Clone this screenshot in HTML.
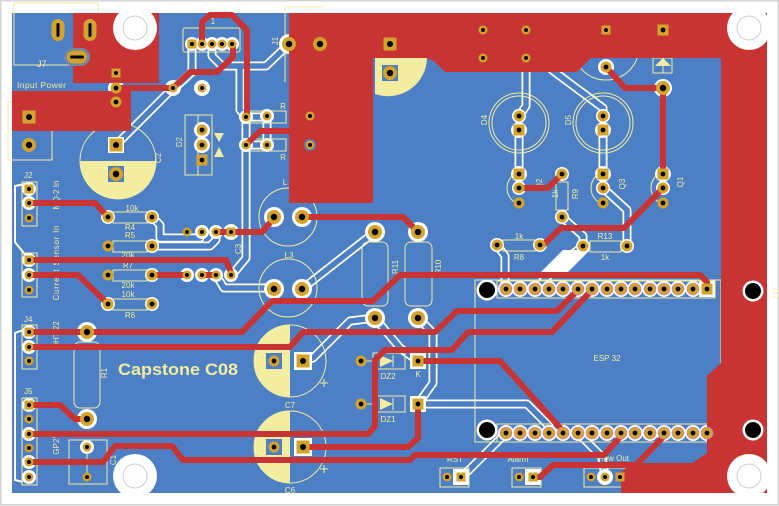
<!DOCTYPE html>
<html><head><meta charset="utf-8"><style>
html,body{margin:0;padding:0;background:#fff;width:779px;height:506px;overflow:hidden}
svg{display:block}
.sk{fill:none;stroke:#f2eda1;stroke-width:1}
.t{fill:#f2eda1;font-family:"Liberation Sans",sans-serif;font-size:8px}
.m{text-anchor:middle}
</style></head><body>
<svg width="779" height="506" viewBox="0 0 779 506" xmlns="http://www.w3.org/2000/svg">
<defs>
<g id="p"><circle r="5.5" fill="#d4a32c"/><circle r="2.4"/></g>
<g id="ps"><circle r="4.5" fill="#d4a32c"/><circle r="2"/></g>
<g id="pb"><circle r="7" fill="#d4a32c"/><circle r="3.2"/></g>
<g id="s"><rect x="-5.5" y="-5.5" width="11" height="11" fill="#d4a32c"/><circle r="2.4"/></g>
<g id="ss"><rect x="-4.5" y="-4.5" width="9" height="9" fill="#d4a32c"/><circle r="2"/></g>
<g id="sb"><rect x="-6.5" y="-6.5" width="13" height="13" fill="#d4a32c"/><circle r="3"/></g>
<g id="e"><circle r="5.8" fill="#d4a32c" stroke="#c58ba6" stroke-width="1"/><circle r="2.4"/></g>
<g id="wt" fill="none" stroke-linejoin="round" stroke-linecap="round">
 <path d="M116,145 L173,88"/>
 <path d="M192,44 V72 L177,86"/>
 <path d="M212,44 V56 L222,66 H266 L289,44"/>
 <path d="M240,66 V110 L246,117 V258 L232,275"/>
 <path d="M246,117 H267 V145 H246"/>
 <path d="M152,217 L160,225 V238 H200 L202,232"/>
 <path d="M152,246 H210 L216,240 V232"/>
 <path d="M216,275 L224,288 H274"/>
 <path d="M302,289 L375,232"/>
 <path d="M375,318 L350,321 L313,358 L303,361"/>
 <path d="M375,318 L400,348 L418,361"/>
 <path d="M418,318 L433,333 V383 L418,404"/>
 <path d="M418,404 H527 L549,426 V433"/>
 <path d="M506,433 L463,476"/>
 <path d="M578,433 L602,457 L605,477"/>
 <path d="M497,245 L505,256 V289"/>
 <path d="M535,289 L560,264 L583,246"/>
 <path d="M562,217 L583,236 V246"/>
 <path d="M603,188 L627,210 V246"/>
 <path d="M526,58 V106 L519,116"/>
 <path d="M519,130 V174"/>
 <path d="M552,70 L603,108 V116"/>
 <path d="M603,130 V174"/>
</g>
</defs>

<rect width="779" height="506" fill="#fff"/>
<rect x="0.75" y="0.75" width="777.5" height="504" fill="none" stroke="#d4d4d4" stroke-width="1.5"/>
<rect x="12" y="13" width="755" height="480" fill="#4d7fc4"/>

<use href="#wt" stroke="#fff" stroke-width="9"/>
<use href="#wt" stroke="#4d7fc4" stroke-width="5.5"/>
<polygon points="540,273 563,250 590,250 567,273" fill="#fff"/>
<path d="M25,184 L15,186 V242 L27,257 M23,330 L15,333 V480 L23,482" fill="none" stroke="#fff" stroke-width="2"/>

<g fill="#fff">
<circle cx="116" cy="88" r="8"/><circle cx="173" cy="88" r="8"/><circle cx="202" cy="88" r="8"/>
<rect x="108" y="137" width="16" height="16"/>
<circle cx="202" cy="130" r="8"/><circle cx="202" cy="145" r="8"/>
<circle cx="192" cy="44" r="7"/><circle cx="202" cy="44" r="7"/><circle cx="212" cy="44" r="7"/><circle cx="222" cy="44" r="7"/><circle cx="232" cy="44" r="7"/>
<circle cx="246" cy="117" r="7"/><circle cx="246" cy="145" r="7"/><circle cx="267" cy="116" r="7"/><circle cx="267" cy="145" r="7"/>
<circle cx="289" cy="44" r="10"/>
<circle cx="526" cy="30" r="7"/><circle cx="526" cy="58" r="7"/><circle cx="606" cy="67" r="8"/><circle cx="663" cy="88" r="9"/>
<circle cx="519" cy="116" r="7"/><circle cx="519" cy="130" r="8"/><circle cx="603" cy="116" r="7"/><circle cx="603" cy="130" r="8"/>
<circle cx="519" cy="174" r="8"/><circle cx="519" cy="188" r="7"/><circle cx="603" cy="174" r="8"/><circle cx="603" cy="188" r="7"/>
<circle cx="663" cy="174" r="8"/><circle cx="663" cy="188" r="7"/>
<circle cx="562" cy="174" r="7"/><circle cx="562" cy="217" r="7"/><circle cx="497" cy="245" r="7"/><circle cx="540" cy="245" r="7"/>
<circle cx="583" cy="246" r="7"/><circle cx="627" cy="246" r="7"/>
<circle cx="108" cy="217" r="7"/><circle cx="152" cy="217" r="7"/><circle cx="152" cy="246" r="7"/><circle cx="152" cy="275" r="7"/>
<circle cx="108" cy="304" r="7"/><circle cx="152" cy="304" r="7"/>
<circle cx="202" cy="232" r="7"/><circle cx="216" cy="232" r="7"/><circle cx="231" cy="232" r="8"/>
<circle cx="187" cy="275" r="7"/><circle cx="202" cy="275" r="7"/><circle cx="216" cy="275" r="7"/><circle cx="231" cy="275" r="7"/>
<circle cx="29" cy="189" r="7"/><circle cx="29" cy="203" r="7"/><circle cx="29" cy="260" r="7"/><circle cx="29" cy="275" r="7"/>
<circle cx="29" cy="332" r="7"/><circle cx="29" cy="347" r="7"/><circle cx="29" cy="405" r="7"/><circle cx="29" cy="434" r="7"/>
<circle cx="29" cy="462" r="7"/><circle cx="29" cy="477" r="7"/>
<circle cx="87" cy="332" r="10"/><circle cx="87" cy="419" r="10"/><circle cx="87" cy="447" r="7"/>
<circle cx="274" cy="217" r="10"/><circle cx="302" cy="217" r="10"/><circle cx="274" cy="289" r="10"/><circle cx="302" cy="289" r="10"/>
<circle cx="375" cy="232" r="10"/><circle cx="375" cy="318" r="10"/><circle cx="418" cy="232" r="10"/><circle cx="418" cy="318" r="10"/>
<rect x="294" y="352" width="18" height="18"/><rect x="294" y="438" width="18" height="18"/>
<rect x="410" y="353" width="16" height="16"/><rect x="410" y="396" width="16" height="16"/>
<rect x="453" y="469" width="16" height="16"/><rect x="525" y="469" width="16" height="16"/><circle cx="605" cy="477" r="8"/>
<circle cx="506" cy="289" r="8"/><circle cx="520" cy="289" r="8"/><circle cx="535" cy="289" r="8"/><circle cx="549" cy="289" r="8"/><circle cx="563" cy="289" r="8"/><circle cx="578" cy="289" r="8"/><circle cx="592" cy="289" r="8"/><circle cx="607" cy="289" r="8"/><circle cx="621" cy="289" r="8"/><circle cx="635" cy="289" r="8"/><circle cx="650" cy="289" r="8"/><circle cx="664" cy="289" r="8"/><circle cx="678" cy="289" r="8"/><circle cx="693" cy="289" r="8"/><rect x="699" y="281" width="16" height="16"/>
<circle cx="506" cy="433" r="8"/><circle cx="520" cy="433" r="8"/><circle cx="535" cy="433" r="8"/><circle cx="549" cy="433" r="8"/><circle cx="563" cy="433" r="8"/><circle cx="578" cy="433" r="8"/><circle cx="592" cy="433" r="8"/><circle cx="607" cy="433" r="8"/><circle cx="621" cy="433" r="8"/><circle cx="635" cy="433" r="8"/><circle cx="650" cy="433" r="8"/><circle cx="664" cy="433" r="8"/><circle cx="678" cy="433" r="8"/><circle cx="693" cy="433" r="8"/><circle cx="707" cy="433" r="8"/>
</g>

<g fill="#f2eda1">
<path d="M80,161 H156 A38,38 0 0 1 80,161 Z"/>
<path d="M375,58 H427 A39,39 0 0 1 375,94 Z"/>
<path d="M290,325 V397 A36,36 0 0 1 290,325 Z"/>
<path d="M290,411 V483 A36,36 0 0 1 290,411 Z"/>
<path d="M214,133 H224 L219,142 Z M214,157 H224 L219,147 Z"/>
<path d="M380,355 V367 L393,361 Z M380,398 V410 L393,404 Z"/>
<path d="M655,66 H671 L663,58 Z"/>
</g>
<g class="sk">
<path d="M98,13 V3 H14 V65 H73"/>
<rect x="8" y="102" width="44" height="58"/>
<circle cx="118" cy="161" r="38"/>
<rect x="185" y="115" width="27" height="60"/><path d="M198,115 V175"/>
<rect x="183" y="28" width="57" height="24" rx="2"/>
<path d="M285,82 V7 H323"/>
<rect x="250" y="111" width="36" height="12"/><rect x="250" y="139" width="36" height="12"/>
<circle cx="288" cy="217" r="29"/><circle cx="288" cy="288" r="29"/>
<circle cx="519" cy="123" r="30"/><circle cx="519" cy="123" r="27"/>
<circle cx="603" cy="123" r="30"/><circle cx="603" cy="123" r="27"/>
<circle cx="606" cy="47" r="33"/>
<circle cx="290" cy="361" r="36"/><circle cx="290" cy="447" r="36"/>
<path d="M320,383 h8 M324,379 v8 M320,469 h8 M324,465 v8"/>
<rect x="113" y="212" width="34" height="11"/><rect x="113" y="241" width="34" height="11"/>
<rect x="113" y="270" width="34" height="11"/><rect x="113" y="299" width="34" height="11"/>
<rect x="74" y="342" width="26" height="66" rx="6"/>
<rect x="69" y="440" width="38" height="44"/><path d="M87,447 V477"/>
<rect x="362" y="242" width="26" height="64" rx="6"/><rect x="405" y="242" width="27" height="64" rx="6"/>
<rect x="373" y="353" width="32" height="16"/><rect x="373" y="396" width="32" height="16"/>
<path d="M366,361 H373 M393,355 V367 M366,404 H373 M393,398 V410"/>
<rect x="475" y="280" width="246" height="162"/>
<rect x="497" y="281" width="218" height="17"/><rect x="497" y="424" width="218" height="18"/>
<rect x="440" y="468" width="29" height="19"/><rect x="512" y="468" width="29" height="19"/><rect x="584" y="468" width="44" height="19"/>
<path d="M524,171 A17,17 0 1 0 524,205 M608,171 A17,17 0 1 0 608,205 M668,171 A17,17 0 1 0 668,205"/>
<rect x="556" y="182" width="12" height="28"/><rect x="503" y="240" width="32" height="11"/><rect x="590" y="241" width="31" height="11"/>
<rect x="653" y="58" width="19" height="15"/><path d="M663,66 V73"/>
<rect x="22" y="182" width="15" height="44"/><rect x="22" y="253" width="15" height="44"/>
<rect x="22" y="325" width="15" height="44"/><rect x="22" y="398" width="15" height="87"/>
</g>
<g class="t">
<text x="37" y="67" font-size="9">J7</text>
<text x="17" y="88" font-size="8.5" textLength="49">Input Power</text>
<text x="24" y="178">J2</text>
<text x="24" y="322">J4</text>
<text x="24" y="394">J5</text>
<text x="132" y="211" class="m">10k</text>
<text x="130" y="230" class="m">R4</text>
<text x="130" y="238" class="m">R5</text>
<text x="128" y="258" class="m">20k</text>
<text x="128" y="268" class="m">R7</text>
<text x="128" y="288" class="m">20k</text>
<text x="128" y="297" class="m">10k</text>
<text x="130" y="318" class="m">R6</text>
<text x="118" y="375" font-size="17" font-weight="bold" textLength="120" lengthAdjust="spacingAndGlyphs">Capstone C08</text>
<text x="110" y="376" class="m" transform="rotate(-90 107 376)">R1</text>
<text x="59" y="201" class="m" transform="rotate(-90 56 198)">MQ-2 In</text>
<text x="59" y="269" class="m" textLength="75" transform="rotate(-90 56 266)">Current Sensor In</text>
<text x="59" y="341" class="m" transform="rotate(-90 56 338)">DHT-22</text>
<text x="59" y="450" class="m" transform="rotate(-90 56 447)">GP2Y</text>
<text x="116" y="466" class="m" transform="rotate(-90 113 463)">C1</text>
<text x="161" y="164" class="m" transform="rotate(-90 158 161)">C2</text>
<text x="182" y="148" class="m" transform="rotate(-90 179 145)">D2</text>
<text x="278" y="47" class="m" transform="rotate(-90 275 44)">J1</text>
<text x="213" y="24" class="m">1</text>
<text x="241" y="255" class="m" transform="rotate(-90 238 252)">C3</text>
<text x="285" y="185" class="m">L</text>
<text x="289" y="258" class="m">L3</text>
<text x="283" y="109" class="m">R</text>
<text x="283" y="160" class="m">R</text>
<text x="398" y="273" class="m" transform="rotate(-90 395 270)">R11</text>
<text x="441" y="273" class="m" transform="rotate(-90 438 270)">R10</text>
<text x="388" y="379" class="m">DZ2</text>
<text x="418" y="377" class="m">K</text>
<text x="388" y="422" class="m">DZ1</text>
<text x="290" y="408" class="m">C7</text>
<text x="290" y="493" class="m">C6</text>
<text x="487" y="126" class="m" transform="rotate(-90 484 123)">D4</text>
<text x="571" y="126" class="m" transform="rotate(-90 568 123)">D5</text>
<text x="542" y="190" class="m" transform="rotate(-90 539 187)">Q2</text>
<text x="625" y="190" class="m" transform="rotate(-90 622 187)">Q3</text>
<text x="683" y="188" class="m" transform="rotate(-90 680 185)">Q1</text>
<text x="558" y="200" class="m" transform="rotate(-90 555 197)">1k</text>
<text x="578" y="200" class="m" transform="rotate(-90 575 197)">R9</text>
<text x="519" y="239" class="m">1k</text>
<text x="519" y="260" class="m">R8</text>
<text x="605" y="239" class="m">R13</text>
<text x="605" y="260" class="m">1k</text>
<text x="607" y="361" class="m">ESP 32</text>
<text x="779" y="299" class="m" transform="rotate(-90 776 296)">U2</text>
<text x="455" y="462" class="m">RST</text>
<text x="518" y="462" class="m">Alarm</text>
<text x="613" y="461" class="m">Flow Out</text>
</g>

<g fill="#4d7fc4">
<rect x="108" y="166" width="16" height="16"/>
<rect x="266" y="353" width="16" height="16"/>
<rect x="266" y="439" width="16" height="16"/>
<rect x="382" y="65" width="16" height="16"/>
</g>

<g fill="#c83434">
<path d="M73,13 H159 V83 H73 Z"/>
<path d="M12,91 H131 V131 H12 Z"/>
<path d="M289,13 H767 V493 H621 V472 L633,463 H692 L707,453 V376 L721,363 V58 H591 L577,72 H445 L435,62 L427,58 H373 V203 H289 Z"/>
</g>
<g fill="none" stroke="#c83434" stroke-width="6" stroke-linejoin="round" stroke-linecap="round">
<path d="M116,88 H173 L190,72 H217 L233,57 V44"/>
<path d="M202,44 V22 L210,15 H232 L247,30 V117"/>
<path d="M246,145 L260,131 H292"/>
<path d="M29,203 H95 L108,217"/>
<path d="M216,232 H262 L274,218"/>
<path d="M302,217 H403 L418,232"/>
<path d="M29,260 H226 L232,275"/>
<path d="M29,275 H78 L108,304"/>
<path d="M152,275 H187 M202,275 H216"/>
<path d="M29,332 H242 L272,301 H373 L400,275 H700 L707,282 V289"/>
<path d="M29,347 H290 L303,332 H435 L457,311 H557 L578,290"/>
<path d="M29,434 H368 L375,426 V360 L385,350 H452 L468,332 H552 L592,290"/>
<path d="M418,361 H500 L564,432"/>
<path d="M303,447 H408 L418,438 V404"/>
<path d="M29,462 H103 L115,446 H172 L183,460 H410 L415,455 H604 L621,436"/>
<path d="M533,477 H540 L553,465 H636 L664,436"/>
<path d="M29,405 H60 L75,419 H87"/>
<path d="M606,67 L625,88 H663 V174"/>
<path d="M519,188 H548 L562,174"/>
<path d="M663,188 L624,228 H561 L541,247"/>
</g>

<g fill="#fff">
<circle cx="135" cy="28" r="22"/><circle cx="749" cy="28" r="22"/>
<circle cx="135" cy="476" r="22"/><circle cx="749" cy="476" r="22"/>
</g>
<g fill="none" stroke="#cfcfcf" stroke-width="1">
<circle cx="135" cy="28" r="12"/><circle cx="749" cy="28" r="12"/>
<circle cx="135" cy="476" r="12"/><circle cx="749" cy="476" r="12"/>
</g>

<rect x="51.5" y="19" width="13" height="22" rx="6.5" fill="#d4a32c"/><rect x="56.5" y="23" width="3" height="14" rx="1.5"/>
<rect x="83.5" y="19" width="13" height="22" rx="6.5" fill="#d4a32c"/><rect x="88.5" y="23" width="3" height="14" rx="1.5"/>
<rect x="64" y="48" width="26" height="18" rx="9" fill="#6f86a8"/>
<rect x="67" y="50.5" width="20" height="13" rx="6.5" fill="#d4a32c"/><rect x="70" y="55.5" width="14" height="3" rx="1.5"/>

<use href="#ss" x="116" y="73"/><use href="#p" x="116" y="88"/><use href="#p" x="116" y="102"/>
<use href="#ps" x="173" y="88"/><use href="#ps" x="202" y="88"/>
<use href="#sb" x="29" y="117"/><use href="#pb" x="29" y="145"/>
<use href="#sb" x="116" y="145"/><use href="#pb" x="116" y="174"/>
<use href="#p" x="202" y="130"/><use href="#p" x="202" y="145"/><use href="#s" x="202" y="160"/>
<use href="#ss" x="192" y="44"/><use href="#ps" x="202" y="44"/><use href="#ps" x="212" y="44"/><use href="#ps" x="222" y="44"/><use href="#ps" x="232" y="44"/>
<use href="#ps" x="246" y="117"/><use href="#ps" x="246" y="145"/><use href="#ps" x="267" y="116"/><use href="#ps" x="267" y="145"/>
<use href="#pb" x="289" y="44"/><use href="#pb" x="320" y="44"/>
<use href="#sb" x="390" y="44"/><use href="#pb" x="390" y="73"/>
<use href="#ps" x="310" y="116"/>
<circle cx="310" cy="145" r="6" fill="#4d7fc4"/><use href="#ps" x="310" y="145"/>
<use href="#ps" x="483" y="30"/><use href="#ps" x="483" y="58"/>
<use href="#ps" x="526" y="30"/><use href="#ps" x="526" y="58"/>
<use href="#ss" x="606" y="30"/><use href="#s" x="663" y="30"/>
<use href="#p" x="606" y="67"/><use href="#pb" x="663" y="88"/>
<use href="#p" x="519" y="116"/><use href="#s" x="519" y="130"/><use href="#p" x="603" y="116"/><use href="#s" x="603" y="130"/>
<use href="#s" x="519" y="174"/><use href="#p" x="519" y="188"/><use href="#p" x="519" y="203"/>
<use href="#s" x="603" y="174"/><use href="#p" x="603" y="188"/><use href="#p" x="603" y="203"/>
<use href="#s" x="663" y="174"/><use href="#p" x="663" y="188"/><use href="#p" x="663" y="203"/>
<use href="#p" x="562" y="174"/><use href="#p" x="562" y="217"/>
<use href="#p" x="497" y="245"/><use href="#p" x="540" y="245"/>
<use href="#p" x="583" y="246"/><use href="#p" x="627" y="246"/>
<use href="#p" x="108" y="217"/><use href="#p" x="152" y="217"/><use href="#p" x="108" y="246"/><use href="#p" x="152" y="246"/>
<use href="#p" x="108" y="275"/><use href="#p" x="152" y="275"/><use href="#p" x="108" y="304"/><use href="#p" x="152" y="304"/>
<use href="#ps" x="187" y="232"/><use href="#ps" x="202" y="232"/><use href="#ps" x="216" y="232"/><use href="#ss" x="231" y="232"/>
<use href="#ps" x="187" y="275"/><use href="#ps" x="202" y="275"/><use href="#ps" x="216" y="275"/><use href="#ps" x="231" y="275"/>
<use href="#ss" x="29" y="189"/><use href="#ps" x="29" y="203"/><use href="#ps" x="29" y="218"/>
<use href="#ss" x="29" y="260"/><use href="#ps" x="29" y="275"/><use href="#ps" x="29" y="290"/>
<use href="#ss" x="29" y="332"/><use href="#ps" x="29" y="347"/><use href="#ps" x="29" y="361"/>
<use href="#ss" x="29" y="405"/><use href="#ps" x="29" y="419"/><use href="#ps" x="29" y="434"/><use href="#ps" x="29" y="448"/><use href="#ps" x="29" y="462"/><use href="#ps" x="29" y="477"/>
<use href="#pb" x="87" y="332"/><use href="#pb" x="87" y="419"/>
<use href="#ps" x="87" y="447"/><use href="#ps" x="87" y="477"/>
<use href="#pb" x="274" y="217"/><use href="#pb" x="302" y="217"/><use href="#pb" x="274" y="289"/><use href="#pb" x="302" y="289"/>
<use href="#pb" x="375" y="232"/><use href="#pb" x="375" y="318"/><use href="#pb" x="418" y="232"/><use href="#pb" x="418" y="318"/>
<use href="#p" x="274" y="361"/><use href="#sb" x="303" y="361"/><use href="#p" x="274" y="447"/><use href="#sb" x="303" y="447"/>
<use href="#p" x="361" y="361"/><use href="#s" x="418" y="361"/><use href="#p" x="361" y="404"/><use href="#s" x="418" y="404"/>
<use href="#ps" x="447" y="477"/><use href="#ss" x="461" y="477"/>
<use href="#ps" x="519" y="477"/><use href="#ss" x="533" y="477"/>
<use href="#ps" x="591" y="477"/><use href="#ps" x="605" y="477"/><use href="#ss" x="620" y="477"/>
<use href="#e" x="506" y="289"/><use href="#e" x="520" y="289"/><use href="#e" x="535" y="289"/><use href="#e" x="549" y="289"/><use href="#e" x="563" y="289"/><use href="#e" x="578" y="289"/><use href="#e" x="592" y="289"/><use href="#e" x="607" y="289"/><use href="#e" x="621" y="289"/><use href="#e" x="635" y="289"/><use href="#e" x="650" y="289"/><use href="#e" x="664" y="289"/><use href="#e" x="678" y="289"/><use href="#e" x="693" y="289"/><use href="#s" x="707" y="289"/>
<use href="#e" x="506" y="433"/><use href="#e" x="520" y="433"/><use href="#e" x="535" y="433"/><use href="#e" x="549" y="433"/><use href="#e" x="563" y="433"/><use href="#e" x="578" y="433"/><use href="#e" x="592" y="433"/><use href="#e" x="607" y="433"/><use href="#e" x="621" y="433"/><use href="#e" x="635" y="433"/><use href="#e" x="650" y="433"/><use href="#e" x="664" y="433"/><use href="#e" x="678" y="433"/><use href="#e" x="693" y="433"/><use href="#e" x="707" y="433"/>

<g fill="#fff"><circle cx="487" cy="290" r="10.5"/><circle cx="487" cy="430" r="10.5"/><circle cx="753" cy="291" r="10.5"/><circle cx="753" cy="430" r="10.5"/></g>
<g fill="#000"><circle cx="487" cy="290" r="8"/><circle cx="487" cy="430" r="8"/><circle cx="753" cy="291" r="8"/><circle cx="753" cy="430" r="8"/></g>
</svg>
</body></html>
